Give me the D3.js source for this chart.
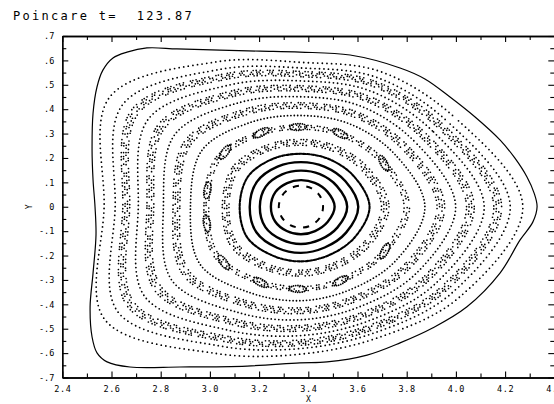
<!DOCTYPE html>
<html>
<head>
<meta charset="utf-8">
<script src="https://cdn.jsdelivr.net/npm/d3@7"></script>
<style>
  body { margin: 0; background: #fff; }
  svg { display: block; }
</style>
</head>
<body>
<svg id="chart" width="554" height="404"></svg>
<script>
// ---- data -------------------------------------------------------------
const titleText = "Poincare t=  123.87";
const xLabel = "X";
const yLabel = "Y";

const xTicks = [2.4, 2.6, 2.8, 3.0, 3.2, 3.4, 3.6, 3.8, 4.0, 4.2, 4.4];
const xTickLabels = ["2.4", "2.6", "2.8", "3.0", "3.2", "3.4", "3.6", "3.8", "4.0", "4.2", "4.4"];
const xMinorTicks = [2.5, 2.7, 2.9, 3.1, 3.3, 3.5, 3.7, 3.9, 4.1, 4.3];
const yTicks = [-0.7, -0.6, -0.5, -0.4, -0.3, -0.2, -0.1, 0, 0.1, 0.2, 0.3, 0.4, 0.5, 0.6, 0.7];
const yTickLabels = ["-.7", "-.6", "-.5", "-.4", "-.3", "-.2", "-.1", "0", ".1", ".2", ".3", ".4", ".5", ".6", ".7"];
const yMinorTicks = [-0.65, -0.55, -0.45, -0.35, -0.25, -0.15, -0.05, 0.05, 0.15, 0.25, 0.35, 0.45, 0.55, 0.65];

// last closed flux surface (X, Y)
const boundary = [
  [2.533, 0.000], [2.525, 0.110], [2.521, 0.233], [2.525, 0.384], [2.541, 0.491],
  [2.565, 0.560], [2.606, 0.610], [2.663, 0.634], [2.744, 0.651], [2.866, 0.647],
  [3.041, 0.642], [3.204, 0.638], [3.366, 0.634], [3.570, 0.622], [3.773, 0.569],
  [3.874, 0.524], [3.976, 0.450], [4.078, 0.368], [4.180, 0.273], [4.240, 0.199],
  [4.289, 0.122], [4.318, 0.056], [4.330, 0.000], [4.313, -0.062], [4.261, -0.136],
  [4.180, -0.271], [4.045, -0.410], [3.907, -0.496], [3.773, -0.558], [3.639, -0.608],
  [3.476, -0.636], [3.366, -0.640], [3.151, -0.653], [2.878, -0.657], [2.675, -0.657],
  [2.582, -0.636], [2.541, -0.599], [2.521, -0.534], [2.513, -0.411], [2.525, -0.272],
  [2.537, -0.116]
];

// magnetic axis and puncture surfaces, given as distance from the axis
// at poloidal angles 0, 30, ..., 330 degrees
const magneticAxis = [3.37, 0.0];
const surfaceAngles = [0, 30, 60, 90, 120, 150, 180, 210, 240, 270, 300, 330];
const surfaceRadii = [
  [0.090, 0.089, 0.087, 0.086, 0.087, 0.089, 0.090, 0.089, 0.087, 0.086, 0.087, 0.089],
  [0.137, 0.124, 0.113, 0.109, 0.112, 0.120, 0.122, 0.121, 0.115, 0.113, 0.115, 0.125],
  [0.188, 0.169, 0.154, 0.148, 0.153, 0.165, 0.167, 0.167, 0.156, 0.153, 0.156, 0.171],
  [0.233, 0.209, 0.190, 0.183, 0.190, 0.206, 0.208, 0.209, 0.194, 0.189, 0.193, 0.212],
  [0.279, 0.249, 0.226, 0.217, 0.227, 0.248, 0.249, 0.252, 0.231, 0.224, 0.229, 0.252],
  [0.343, 0.304, 0.275, 0.264, 0.277, 0.308, 0.306, 0.313, 0.283, 0.272, 0.278, 0.308],
  [0.430, 0.378, 0.341, 0.326, 0.345, 0.390, 0.384, 0.397, 0.352, 0.336, 0.344, 0.383],
  [0.504, 0.437, 0.393, 0.374, 0.401, 0.464, 0.449, 0.473, 0.408, 0.385, 0.394, 0.444],
  [0.569, 0.488, 0.438, 0.415, 0.449, 0.529, 0.506, 0.540, 0.457, 0.426, 0.436, 0.495],
  [0.629, 0.534, 0.478, 0.451, 0.494, 0.592, 0.559, 0.605, 0.502, 0.463, 0.474, 0.543],
  [0.689, 0.579, 0.517, 0.485, 0.538, 0.656, 0.612, 0.671, 0.545, 0.498, 0.511, 0.589],
  [0.745, 0.619, 0.551, 0.516, 0.577, 0.717, 0.661, 0.734, 0.585, 0.528, 0.542, 0.631],
  [0.800, 0.658, 0.584, 0.544, 0.616, 0.779, 0.710, 0.799, 0.624, 0.557, 0.571, 0.671],
  [0.851, 0.692, 0.613, 0.569, 0.651, 0.837, 0.755, 0.860, 0.659, 0.581, 0.597, 0.708],
  [0.902, 0.726, 0.641, 0.592, 0.686, 0.898, 0.800, 0.922, 0.694, 0.604, 0.621, 0.743]
];
// orbit type of each surface
const surfaceType = [
  "chain", "regular", "regular", "regular", "regular", "stochastic", "separatrix",
  "regular", "stochastic", "regular", "stochastic", "regular", "stochastic", "regular", "regular"
];
// island chain sitting on the separatrix surface (poloidal angle, degrees)
const islandSurface = 6;
const islandAngles = [28, 62, 92, 118, 144, 170, 190, 216, 242, 268, 298, 332];

// ---- layout -----------------------------------------------------------
const plot = { left: 62.3, right: 554.3, top: 36, bottom: 377.5 };
const svg = d3.select("#chart");
const x = d3.scaleLinear().domain([2.4, 4.4]).range([plot.left, plot.right]);
const y = d3.scaleLinear().domain([-0.7, 0.7]).range([plot.bottom, plot.top]);
const pxPerUnit = (x(1) - x(0) + y(0) - y(1)) / 2;
const monoFont = "'DejaVu Sans Mono', 'Liberation Mono', monospace";

// ---- title ------------------------------------------------------------
svg.append("text")
  .attr("x", 13).attr("y", 20)
  .attr("font-family", monoFont).attr("font-size", 12)
  .attr("letter-spacing", 2.3)
  .attr("xml:space", "preserve")
  .style("white-space", "pre")
  .text(titleText);

// ---- surfaces ---------------------------------------------------------
const lineGen = d3.line()
  .x(d => x(d[0])).y(d => y(d[1]))
  .curve(d3.curveCatmullRomClosed.alpha(0.5));

function surfacePoints(radii, scale) {
  return radii.map((r, i) => {
    const a = surfaceAngles[i] * Math.PI / 180;
    return [magneticAxis[0] + r * scale * Math.cos(a), magneticAxis[1] + r * scale * Math.sin(a)];
  });
}
function radiusAt(radii, deg) {
  const t = ((deg % 360) + 360) % 360 / 30;
  const i0 = Math.floor(t) % radii.length, i1 = (i0 + 1) % radii.length;
  const f = t - Math.floor(t);
  return radii[i0] * (1 - f) + radii[i1] * f;
}

const gPts = svg.append("g").attr("fill", "none").attr("stroke", "#000")
  .attr("stroke-linecap", "round");

// irregular puncture spacing patterns for chaotic bands
const bandPatterns = [
  "0 3.1 0 5.7 0 2.4 0 7.9 0 3.6 0 4.8",
  "0 4.4 0 2.6 0 6.3 0 3.2 0 8.5 0 2.9",
  "0 2.7 0 6.8 0 3.9 0 2.3 0 5.4 0 9.1",
  "0 5.9 0 3.3 0 2.5 0 7.2 0 4.1 0 3.0"
];

surfaceRadii.forEach((radii, i) => {
  const type = surfaceType[i];
  const meanPx = d3.mean(radii) * pxPerUnit;
  if (type === "chain") {
    const p = gPts.append("path").attr("d", lineGen(surfacePoints(radii, 1)))
      .attr("stroke-width", 2.0).attr("stroke-linecap", "butt");
    const L = p.node().getTotalLength();
    const seg = L / 10;
    p.attr("stroke-dasharray", `${seg * 0.45} ${seg * 0.55}`).attr("stroke-dashoffset", seg * 0.2);
  } else if (type === "regular") {
    const p = gPts.append("path").attr("d", lineGen(surfacePoints(radii, 1)));
    if (meanPx < 55) {
      p.attr("stroke-width", 2.4);
    } else if (meanPx < 70) {
      p.attr("stroke-width", 2.1).attr("stroke-dasharray", "2.6 1.6");
    } else {
      const gap = 2.8 + 2.0 * (meanPx - 70) / 120;
      p.attr("stroke-width", 1.8).attr("stroke-dasharray", `0 ${gap.toFixed(2)}`)
        .attr("stroke-dashoffset", i * 0.7);
    }
  } else {
    // chaotic band: several interleaved rows of punctures
    const rows = type === "separatrix"
      ? [[-2.2, 0], [0.4, 2], [2.4, 1]]
      : [[-3.2, 0], [-1.1, 1], [1.1, 2], [3.2, 3]];
    rows.forEach(([off, pat], k) => {
      gPts.append("path")
        .attr("d", lineGen(surfacePoints(radii, 1 + off / meanPx)))
        .attr("stroke-width", 1.7)
        .attr("stroke-dasharray", bandPatterns[pat])
        .attr("stroke-dashoffset", 1.3 * k + 2.1 * i);
    });
  }
});

// islands on the separatrix surface
const islandRadii = surfaceRadii[islandSurface];
islandAngles.forEach((deg, k) => {
  const r = radiusAt(islandRadii, deg);
  const a = deg * Math.PI / 180;
  const cx = x(magneticAxis[0] + r * Math.cos(a));
  const cy = y(magneticAxis[1] + r * Math.sin(a));
  gPts.append("ellipse")
    .attr("cx", cx).attr("cy", cy)
    .attr("rx", 8.5).attr("ry", 3.4)
    .attr("transform", `rotate(${90 - deg} ${cx} ${cy})`)
    .attr("stroke-width", 1.8)
    .attr("stroke-dasharray", "0 2.2")
    .attr("stroke-dashoffset", k * 0.9);
});

// boundary
svg.append("path")
  .attr("d", lineGen(boundary))
  .attr("fill", "none").attr("stroke", "#000").attr("stroke-width", 1.2);

// ---- axes -------------------------------------------------------------
function styleAxis(g) {
  g.attr("font-family", monoFont).attr("font-size", 8.5);
  g.selectAll("path.domain").attr("stroke", "#000").attr("stroke-width", 1.3);
  g.selectAll(".tick line").attr("stroke", "#000").attr("stroke-width", 1.1);
  g.selectAll(".tick text").attr("fill", "#000");
}
const noLabel = () => "";

svg.append("g").attr("transform", `translate(0,${plot.bottom})`)
  .call(d3.axisBottom(x).tickValues(xTicks).tickFormat((d, i) => xTickLabels[i])
    .tickSize(-6).tickSizeOuter(0).tickPadding(8))
  .call(styleAxis)
  .call(g => g.selectAll(".tick text").attr("letter-spacing", 0.6));
svg.append("g").attr("transform", `translate(0,${plot.bottom})`)
  .call(d3.axisBottom(x).tickValues(xMinorTicks).tickFormat(noLabel).tickSize(-4).tickSizeOuter(0))
  .call(styleAxis);
svg.append("g").attr("transform", `translate(0,${plot.top})`)
  .call(d3.axisTop(x).tickValues(xTicks).tickFormat(noLabel).tickSize(-6).tickSizeOuter(0))
  .call(styleAxis);
svg.append("g").attr("transform", `translate(0,${plot.top})`)
  .call(d3.axisTop(x).tickValues(xMinorTicks).tickFormat(noLabel).tickSize(-4).tickSizeOuter(0))
  .call(styleAxis);

svg.append("g").attr("transform", `translate(${plot.left},0)`)
  .call(d3.axisLeft(y).tickValues(yTicks).tickFormat((d, i) => yTickLabels[i])
    .tickSize(-6).tickSizeOuter(0).tickPadding(8))
  .call(styleAxis);
svg.append("g").attr("transform", `translate(${plot.left},0)`)
  .call(d3.axisLeft(y).tickValues(yMinorTicks).tickFormat(noLabel).tickSize(-4).tickSizeOuter(0))
  .call(styleAxis);
svg.append("g").attr("transform", `translate(${plot.right},0)`)
  .call(d3.axisRight(y).tickValues(yTicks).tickFormat(noLabel).tickSize(-6).tickSizeOuter(0))
  .call(styleAxis);
svg.append("g").attr("transform", `translate(${plot.right},0)`)
  .call(d3.axisRight(y).tickValues(yMinorTicks).tickFormat(noLabel).tickSize(-4).tickSizeOuter(0))
  .call(styleAxis);

// axis titles
svg.append("text")
  .attr("x", (plot.left + plot.right) / 2).attr("y", 402)
  .attr("text-anchor", "middle")
  .attr("font-family", monoFont).attr("font-size", 8)
  .text(xLabel);
svg.append("text")
  .attr("transform", `translate(32,${y(0)}) rotate(-90)`)
  .attr("text-anchor", "middle")
  .attr("font-family", monoFont).attr("font-size", 8)
  .text(yLabel);
</script>
</body>
</html>
